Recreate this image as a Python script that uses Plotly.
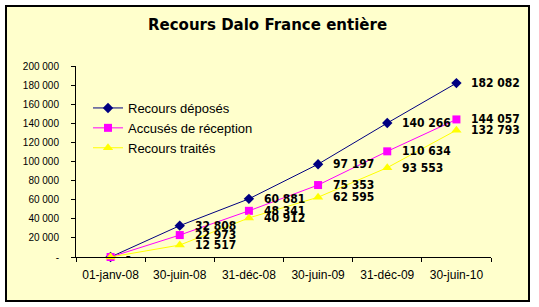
import plotly.graph_objects as go

categories = ["01-janv-08", "30-juin-08", "31-déc-08", "30-juin-09", "31-déc-09", "30-juin-10"]
deposes = [0, 32808, 60881, 97197, 140266, 182082]
accuses = [0, 22973, 48341, 75353, 110634, 144057]
traites = [0, 12517, 40912, 62595, 93553, 132793]
y_tickvals = [0, 20000, 40000, 60000, 80000, 100000, 120000, 140000, 160000, 180000, 200000]


def fmt(v):
    if v == 0:
        return "-"
    return f"{v:,}".replace(",", " ")


y_ticktext = [fmt(v) for v in y_tickvals]

W, H = 539, 307
L, R, T, B = 76, 491, 66, 257  # plot area in pixels

label_font = dict(family="DejaVu Sans Condensed, Liberation Sans, Arial", size=12,
                  color="black", weight="bold")

fig = go.Figure()
series = [
    ("Recours déposés", deposes, "#000080", "diamond", 8),
    ("Accusés de réception", accuses, "#FF00FF", "square", 8),
    ("Recours traités", traites, "#FFFF00", "triangle-up", 9),
]
for name, vals, col, sym, sz in series:
    fig.add_trace(go.Scatter(
        x=categories, y=vals, name=name, mode="lines+markers",
        line=dict(color=col, width=1),
        marker=dict(color=col, symbol=sym, size=sz, line=dict(width=0)),
        cliponaxis=False,
    ))
    for c, v in zip(categories, vals):
        fig.add_annotation(x=c, y=v, text=fmt(v), showarrow=False, xanchor="left",
                           yanchor="middle", xshift=13, font=label_font)

pw, ph = R - L, B - T


def px_x(p):
    return (p - L) / pw


def px_y(p):
    return (B - p) / ph


fig.add_shape(type="rect", xref="paper", yref="paper",
              x0=px_x(6), x1=px_x(529), y0=px_y(301), y1=px_y(6),
              fillcolor="#FFFFCC", line=dict(color="black", width=2), layer="below")

fig.add_annotation(text="<b>Recours Dalo France entière</b>", xref="paper", yref="paper",
                   x=px_x(267.5), y=px_y(25), xanchor="center", yanchor="middle",
                   showarrow=False, font=dict(family="DejaVu Sans", size=15, color="black"))

fig.update_layout(
    width=W, height=H,
    margin=dict(l=L, r=W - R, t=T, b=H - B, pad=0),
    paper_bgcolor="white", plot_bgcolor="rgba(0,0,0,0)",
    showlegend=True,
    legend=dict(x=px_x(88), y=px_y(93), xanchor="left", yanchor="top",
                bgcolor="rgba(0,0,0,0)", font=dict(family="Liberation Sans, Arial", size=13, color="black"),
                tracegroupgap=0, itemwidth=30),
    xaxis=dict(type="category", range=[-0.5, 5.5], showgrid=False, showline=True,
               linecolor="black", linewidth=1, ticks="outside", tickson="boundaries",
               ticklen=4, tickcolor="black", ticklabelstandoff=7,
               tickfont=dict(family="Liberation Sans, Arial", size=12, color="black"),
               zeroline=False),
    yaxis=dict(range=[0, 200000], showgrid=False, showline=True, linecolor="black",
               linewidth=1, ticks="outside", ticklen=4, tickcolor="black",
               tickvals=y_tickvals, ticktext=y_ticktext, ticklabelstandoff=10,
               tickfont=dict(family="Liberation Sans, Arial", size=10, color="black"),
               zeroline=False),
)

fig.write_html("out.html")
